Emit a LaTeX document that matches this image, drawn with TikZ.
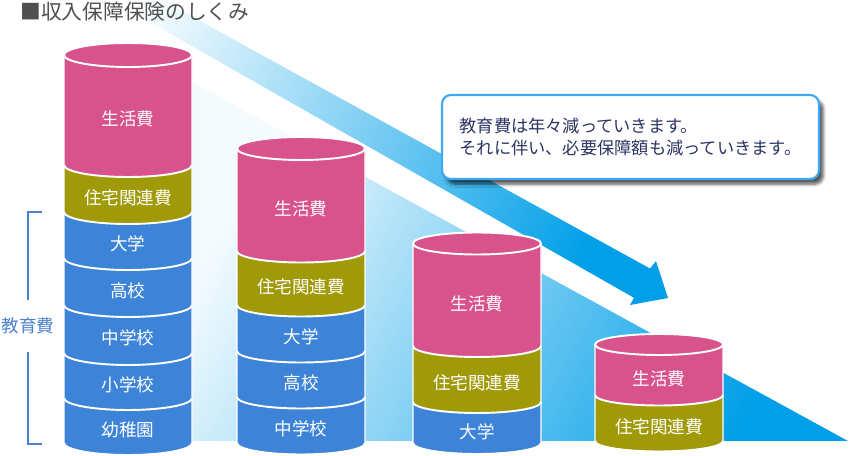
\documentclass[tikz,border=0pt]{standalone}
\usepackage{fontspec}
\newfontfamily\jpfont{Noto Sans CJK JP}
\usetikzlibrary{shadows, shadows.blur, positioning}
\definecolor{lifepink}{HTML}{D8528C}
\definecolor{houseolive}{HTML}{A09A08}
\definecolor{schoolblue}{HTML}{3D84D8}
\definecolor{flowblue}{HTML}{009FE8}
\definecolor{paleblue}{HTML}{F4FBFE}
\definecolor{boxblue}{HTML}{3EA8F5}
\definecolor{navytext}{HTML}{2C3464}
\definecolor{titlegray}{HTML}{505050}
\definecolor{edublue}{HTML}{4A80CC}
\tikzstyle{seglabel} = [font=\jpfont\fontsize{10}{12}\selectfont, text=white, inner sep=0pt]
\tikzstyle{seam}     = [white, line width=1.1pt]
\tikzstyle{rim}      = [white, line width=0.6pt]
\tikzstyle{title}    = [font=\jpfont\fontsize{11.8}{14}\selectfont, text=titlegray, inner sep=0pt]
\tikzstyle{edulabel} = [font=\jpfont\fontsize{10}{12}\selectfont, text=edublue, inner sep=0pt, minimum height=1.04cm]
\tikzstyle{bracket}  = [edublue, line width=0.7pt]
\tikzstyle{msgbox}   = [draw=boxblue, line width=1.2pt, fill=white, rounded corners=5pt, minimum width=7.54cm, minimum height=1.68cm, align=left, text=navytext, font=\jpfont\fontsize{9.8}{13}\selectfont, blur shadow={shadow xshift=2.5pt, shadow yshift=-3pt, shadow opacity=65}]
% #1 name, #2 centre x, #3 top, #4 bottom, #5 y radius, #6 colour, #7 text
\newcommand{\cylpart}[7]{%
  \fill[#6] (#2-64,#3) -- (#2-64,#4) arc[start angle=180, end angle=0, x radius=64, y radius=#5] -- (#2+64,#3) -- cycle;
  \draw[seam] (#2-64,#4) arc[start angle=180, end angle=0, x radius=64, y radius=#5];
  \node[seglabel] (#1) at (#2,{(#3+#4)/2+9}) {#7};
}
% #1 centre x, #2 top, #3 bottom, #4 y radius, #5 colour
\newcommand{\cylcap}[5]{%
  \draw[rim] (#1-64,#2) -- (#1-64,#3) arc[start angle=180, end angle=0, x radius=64, y radius=#4] -- (#1+64,#2);
  \draw[seam, fill=#5] (#1,#2) ellipse[x radius=64, y radius=#4];
}
\begin{document}
\begin{tikzpicture}[x=0.02cm, y=-0.02cm]
\useasboundingbox (0,0) rectangle (850,456);
\clip (0,0) rectangle (850,456);

\shade[left color=paleblue, right color=flowblue, shading angle=61] (192,82) -- (192,441) -- (848,441) -- cycle;
\shade[left color=white, right color=flowblue, shading angle=61] (60,-56) -- (650,268.5) -- (656,261) -- (668,298) -- (630,305) -- (634,297.8) -- (60,-29) -- cycle;

\node[msgbox] (msg) at (630.5,137) {教育費は年々減っていきます。\\それに伴い、必要保障額も減っていきます。};

\node[title, anchor=west] (ttl) at (20,12) {■収入保障保険のしくみ};

\node[edulabel] (edu) at (28,326) {教育費};
\coordinate (bt) at (42,212);
\coordinate (bb) at (42,444);
\draw[bracket] (bt) -| (edu.north);
\draw[bracket] (bb) -| (edu.south);

\cylpart{c1kinder}{128}{398}{443}{12}{schoolblue}{幼稚園}
\cylpart{c1elem}{128}{353}{398}{12}{schoolblue}{小学校}
\cylpart{c1junior}{128}{305}{353}{12}{schoolblue}{中学校}
\cylpart{c1high}{128}{258}{305}{12}{schoolblue}{高校}
\cylpart{c1univ}{128}{212}{258}{12}{schoolblue}{大学}
\cylpart{c1house}{128}{165}{212}{12}{houseolive}{住宅関連費}
\cylpart{c1life}{128}{55}{165}{12}{lifepink}{生活費}
\cylcap{128}{55}{443}{12}{lifepink}

\cylpart{c2junior}{301}{397}{443}{11.5}{schoolblue}{中学校}
\cylpart{c2high}{301}{351}{397}{11.5}{schoolblue}{高校}
\cylpart{c2univ}{301}{305}{351}{11.5}{schoolblue}{大学}
\cylpart{c2house}{301}{251}{305}{11.5}{houseolive}{住宅関連費}
\cylpart{c2life}{301}{148.5}{251}{11.5}{lifepink}{生活費}
\cylcap{301}{148.5}{443}{11.5}{lifepink}

\cylpart{c3univ}{477}{402}{443}{11}{schoolblue}{大学}
\cylpart{c3house}{477}{346}{402}{11}{houseolive}{住宅関連費}
\cylpart{c3life}{477}{243.5}{346}{11}{lifepink}{生活費}
\cylcap{477}{243.5}{443}{11}{lifepink}

\cylpart{c4house}{659}{395}{441}{10.5}{houseolive}{住宅関連費}
\cylpart{c4life}{659}{344.5}{395}{10.5}{lifepink}{生活費}
\cylcap{659}{344.5}{441}{10.5}{lifepink}

\end{tikzpicture}
\end{document}
